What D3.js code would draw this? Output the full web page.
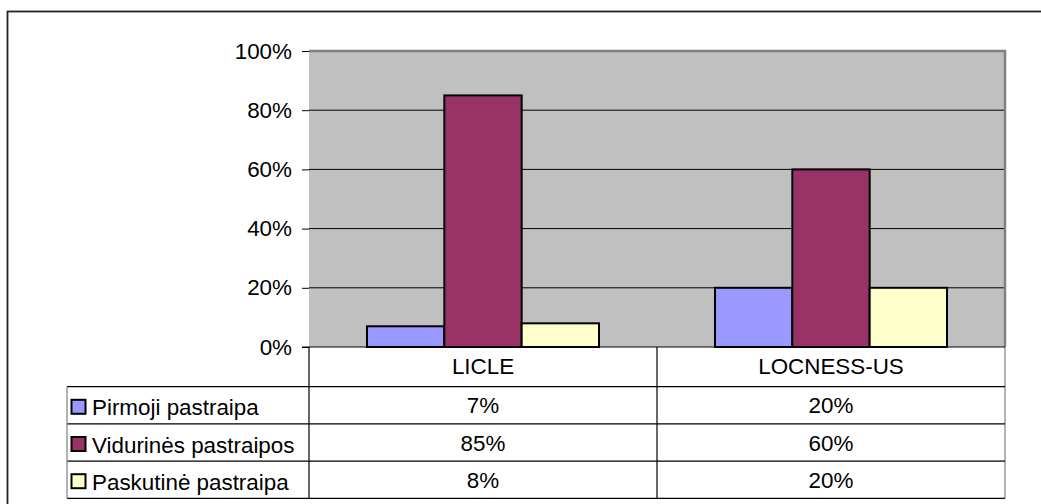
<!DOCTYPE html>
<html><head><meta charset="utf-8">
<script src="https://cdnjs.cloudflare.com/ajax/libs/d3/7.8.5/d3.min.js"></script>
<style>html,body{margin:0;padding:0;background:#fff;}svg{display:block;font-family:"Liberation Sans",Arial,sans-serif;}</style>
</head><body>
<svg id="c" width="1041" height="504"></svg>
<script>
const categories = ["LICLE", "LOCNESS-US"];
const seriesNames = ["Pirmoji pastraipa", "Vidurinės pastraipos", "Paskutinė pastraipa"];
const seriesColors = ["#9999FF", "#993366", "#FFFFCC"];
const pirmoji = [0.07, 0.20];
const vidurines = [0.85, 0.60];
const paskutine = [0.08, 0.20];
const tickValues = [0, 0.2, 0.4, 0.6, 0.8, 1.0];
const series = [pirmoji, vidurines, paskutine];

const svg = d3.select("#c");
const fs = 22.4;
// outer frame
svg.append("rect").attr("x",7.5).attr("y",11.5).attr("width",1100).attr("height",600)
  .attr("fill","none").attr("stroke","#222").attr("stroke-width",1.8);

const L = 309, R = 1005, T = 51, B = 347;
const x0 = d3.scaleBand().domain(categories).range([L, R]);
const y = d3.scaleLinear().domain([0, 1]).range([B, T]);
const bw = x0.bandwidth() / 4.5;
const x1 = d3.scaleBand().domain(d3.range(series.length)).range([bw*0.75, bw*0.75 + bw*3]);

// plot area
svg.append("rect").attr("x",L).attr("y",T).attr("width",R-L).attr("height",B-T).attr("fill","#C0C0C0");
// gridlines
svg.append("g").selectAll("line").data(tickValues.filter(v=>v>0 && v<1)).join("line")
  .attr("x1",L).attr("x2",R).attr("y1",d=>y(d)).attr("y2",d=>y(d)).attr("stroke","#000").attr("stroke-width",1);
// plot border top/right
svg.append("path").attr("d",`M${L},${T} H${R} V${B}`).attr("fill","none").attr("stroke","#808080").attr("stroke-width",2.5);

// bars
const g = svg.append("g");
categories.forEach((c, ci) => {
  series.forEach((s, si) => {
    g.append("rect")
      .attr("x", x0(c) + x1(si)).attr("width", x1.bandwidth())
      .attr("y", y(s[ci])).attr("height", y(0) - y(s[ci]))
      .attr("fill", seriesColors[si]).attr("stroke", "#000").attr("stroke-width", 2);
  });
});

// y axis
const yAxis = d3.axisLeft(y).tickValues(tickValues).tickFormat(d3.format(".0%")).tickSize(7).tickPadding(10);
const ax = svg.append("g").attr("transform",`translate(${L},0)`).call(yAxis);
ax.select(".domain").remove();
ax.selectAll("line").attr("stroke","#000");
ax.selectAll("text").attr("font-size",fs).attr("fill","#000").attr("font-family","Liberation Sans, Arial, sans-serif");

// data table
const rowH = 37.2;
const headerBottom = 386.7;
const rows = seriesNames.map((n,i)=>headerBottom + rowH*(i+1));
const tg = svg.append("g");
const line = (x1_,y1_,x2_,y2_,col) => tg.append("line").attr("x1",x1_).attr("y1",y1_).attr("x2",x2_).attr("y2",y2_).attr("stroke",col||"#000").attr("stroke-width",1.2);
line(L, B, L, rows[2], "#000");
line(x0(categories[1]), B, x0(categories[1]), rows[2]);
line(R, B, R, rows[2], "#808080");
line(67, headerBottom, R, headerBottom);
rows.forEach(r => line(67, r, R, r));
line(67, headerBottom, 67, rows[2], "#808080");
line(L-7, B, R, B);

// header text
tg.selectAll("text.cat").data(categories).join("text").attr("class","cat")
  .attr("x", d => x0(d) + x0.bandwidth()/2).attr("y", (B+headerBottom)/2 + 7.5)
  .attr("text-anchor","middle").attr("font-size",fs).text(d=>d);

// rows
seriesNames.forEach((n, si) => {
  const top = si===0 ? headerBottom : rows[si-1];
  const cy = top + rowH/2;
  tg.append("rect").attr("x",71.5).attr("y",cy-5.5).attr("width",14).attr("height",14)
    .attr("fill",seriesColors[si]).attr("stroke","#000").attr("stroke-width",2);
  tg.append("text").attr("x",92).attr("y",cy+10).attr("font-size",fs).text(n);
  categories.forEach((c, ci) => {
    tg.append("text").attr("x", x0(c)+x0.bandwidth()/2).attr("y", cy+8)
      .attr("text-anchor","middle").attr("font-size",fs).text(d3.format(".0%")(series[si][ci]));
  });
});
</script>
</body></html>
